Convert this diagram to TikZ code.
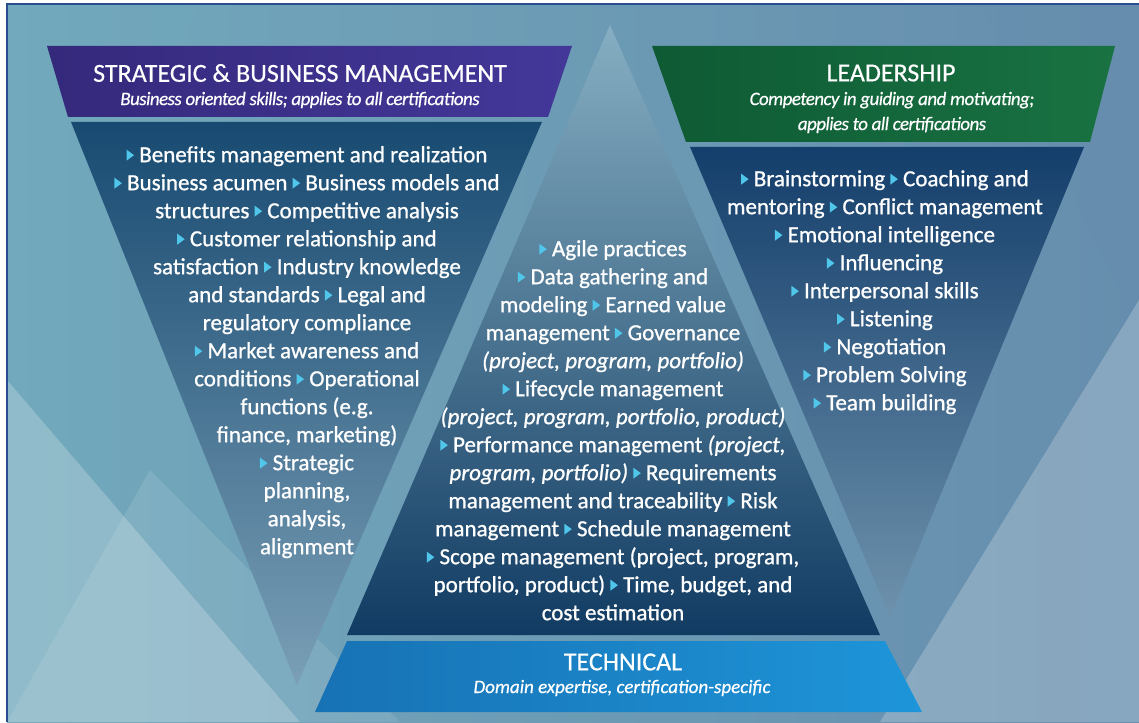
\documentclass[tikz,border=0pt]{standalone}
\usepackage{fontspec}
\setmainfont{Carlito}
\usetikzlibrary{positioning}

\definecolor{bgleft}{HTML}{72A9BC}
\definecolor{bgmid}{HTML}{A6D3E2}
\definecolor{bgright}{HTML}{668DAD}
\definecolor{frameblue}{HTML}{2A4D8F}
\definecolor{purpleA}{HTML}{35297C}
\definecolor{purpleB}{HTML}{433899}
\definecolor{greenA}{HTML}{0E5A34}
\definecolor{greenB}{HTML}{197242}
\definecolor{navyL}{HTML}{184A71}
\definecolor{navyR}{HTML}{143E6B}
\definecolor{navyM}{HTML}{113B62}
\definecolor{fadeL}{HTML}{7A9FB6}
\definecolor{fadeR}{HTML}{6E92AC}
\definecolor{apexM}{HTML}{86AEC2}
\definecolor{techA}{HTML}{1772B4}
\definecolor{techB}{HTML}{1E95D9}
\definecolor{bulcyan}{HTML}{4FC6EA}

\newcommand{\bul}{\tikz[baseline=0pt]\fill[bulcyan] (0pt,1.5pt) -- (0pt,12.5pt) -- (7.5pt,7pt) -- cycle;\ }

\begin{document}
\begin{tikzpicture}[
    x=1pt, y=-1pt,
    hdr/.style={text=white, inner sep=0pt, font=\fontsize{26}{30}\selectfont\addfontfeatures{FakeBold=0.4}},
    sub/.style={text=white, inner sep=0pt, align=center, font=\itshape\fontsize{19}{25}\selectfont\addfontfeatures{LetterSpace=-3,FakeBold=0.5}},
    items/.style={text=white, inner sep=0pt, align=center, anchor=north, font=\fontsize{23}{28}\selectfont\addfontfeatures{FakeBold=0.9}}
]
\useasboundingbox (0,0) rectangle (1139,722);

% Background
\fill[white] (0,0) rectangle (1139,722);
\shade[left color=bgleft, middle color=bgmid, right color=bgright] (7,4) rectangle (1139,722);
\fill[white, opacity=0.22] (7,722) -- (7,380) -- (300,722) -- cycle;
\fill[white, opacity=0.10] (7,722) -- (150,470) -- (400,722) -- cycle;
\fill[bgright, opacity=0.35] (1139,4) -- (980,4) -- (1139,330) -- cycle;
\fill[white, opacity=0.22] (880,722) -- (1139,300) -- (1139,722) -- cycle;
\fill[bgleft, opacity=0.30] (7,4) -- (200,4) -- (7,330) -- cycle;
\draw[frameblue, line width=1.5pt] (7,722) -- (7,4) -- (1139,4);

% Middle: technical
\shade[top color=apexM, middle color=navyM!85!apexM, bottom color=navyM] (610,25) -- (880,635) -- (347,635) -- cycle;
\shade[left color=techA, right color=techB] (347,641) -- (885,641) -- (922,712) -- (315,712) -- cycle;
\node[hdr] (tech) at (623,662) {TECHNICAL};
\node[sub] (techsub) at (622,688) {\addfontfeatures{LetterSpace=0}Domain expertise, certification-specific};
\node[items] (techlist) at (613,240) {%
\bul Agile practices\\
\bul Data gathering and\\
modeling \bul Earned value\\
management \bul Governance\\
\textit{(project, program, portfolio)}\\
\bul Lifecycle management\\
\textit{(project, program, portfolio, product)}\\
\bul Performance management \textit{(project,}\\
\textit{program, portfolio)} \bul Requirements\\
management and traceability \bul Risk\\
management \bul Schedule management\\
\bul Scope management (project, program,\\
portfolio, product) \bul Time, budget, and\\
cost estimation};

% Left: strategic and business management
\shade[top color=navyL, middle color=navyL!75!fadeL, bottom color=fadeL] (71,122) -- (542,122) -- (297,685) -- cycle;
\shade[left color=purpleA, right color=purpleB] (47,46) -- (572,46) -- (548,117) -- (68,117) -- cycle;
\node[hdr] (sbm) at (300,73) {STRATEGIC \& BUSINESS MANAGEMENT};
\node[sub] (sbmsub) at (300,100) {Business oriented skills; applies to all certifications};
\node[items] (sbmlist) at (307,146) {%
\bul Benefits management and realization\\
\bul Business acumen \bul Business models and\\
structures \bul Competitive analysis\\
\bul Customer relationship and\\
satisfaction \bul Industry knowledge\\
and standards \bul Legal and\\
regulatory compliance\\
\bul Market awareness and\\
conditions \bul Operational\\
functions (e.g.\\
finance, marketing)\\
\bul Strategic\\
planning,\\
analysis,\\
alignment};

% Right: leadership
\shade[top color=navyR, middle color=navyR!80!fadeR, bottom color=fadeR] (690,147) -- (1084,147) -- (890,617) -- cycle;
\shade[left color=greenA, right color=greenB] (652,46) -- (1115,46) -- (1090,142) -- (686,142) -- cycle;
\node[hdr] (lead) at (891,73) {LEADERSHIP};
\node[sub] (leadsub) at (892,112.5) {Competency in guiding and motivating;\\applies to all certifications};
\node[items] (leadlist) at (885,170) {%
\bul Brainstorming \bul Coaching and\\
mentoring \bul Conflict management\\
\bul Emotional intelligence\\
\bul Influencing\\
\bul Interpersonal skills\\
\bul Listening\\
\bul Negotiation\\
\bul Problem Solving\\
\bul Team building};

\end{tikzpicture}
\end{document}
